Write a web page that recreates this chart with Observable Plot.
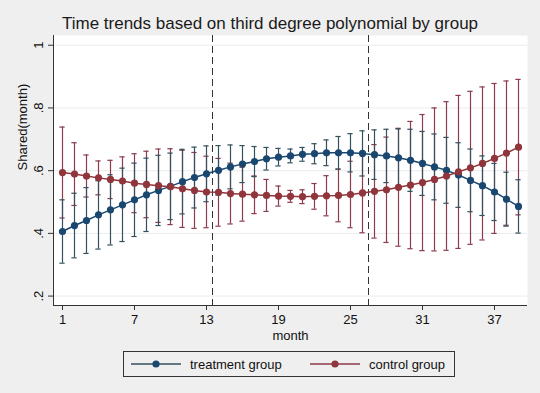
<!DOCTYPE html>
<html><head><meta charset="utf-8">
<script src="https://cdn.jsdelivr.net/npm/d3@7"></script>
<script src="https://cdn.jsdelivr.net/npm/@observablehq/plot@0.6"></script>
<style>
body{margin:0;background:#efefef;}
#wrap{position:relative;width:540px;height:393px;background:#efefef;font-family:"Liberation Sans",Arial,sans-serif;color:#111;overflow:hidden}
#title{position:absolute;left:0;width:540px;top:14px;text-align:center;font-size:17px;line-height:20px;color:#1a1a1a}
#chart{position:absolute;left:0;top:30px}
#legend{position:absolute;left:123px;top:351px;width:330px;height:24px;border:1px solid #333;background:#efefef}
#legend svg{display:block}
</style></head>
<body>
<div id="wrap">
  <div id="title">Time trends based on third degree polynomial by group</div>
  <div id="chart"></div>
  <div id="legend"></div>
</div>
<script>
const months = d3.range(1, 40);
const xTicks = [1, 7, 13, 19, 25, 31, 37];
const yTicks = [0.2, 0.4, 0.6, 0.8, 1];
const cutoffs = [13.5, 26.5];
const groups = ["treatment group", "control group"];

const treatment = [0.406,0.425,0.441,0.459,0.475,0.491,0.507,0.523,0.537,0.550,0.565,0.578,0.590,0.601,0.612,0.621,0.629,0.638,0.643,0.647,0.652,0.654,0.657,0.657,0.657,0.655,0.651,0.647,0.641,0.633,0.623,0.612,0.601,0.586,0.569,0.552,0.532,0.509,0.486];
const treatmentCI = [0.101,0.103,0.105,0.109,0.112,0.117,0.117,0.117,0.112,0.106,0.103,0.097,0.089,0.079,0.070,0.059,0.048,0.036,0.028,0.022,0.022,0.032,0.041,0.052,0.061,0.072,0.079,0.085,0.092,0.099,0.102,0.105,0.105,0.103,0.100,0.095,0.091,0.086,0.085];
const control = [0.594,0.589,0.583,0.577,0.572,0.567,0.560,0.556,0.552,0.549,0.542,0.537,0.532,0.531,0.527,0.525,0.523,0.521,0.519,0.518,0.517,0.518,0.520,0.521,0.524,0.529,0.534,0.539,0.547,0.554,0.562,0.572,0.583,0.596,0.609,0.623,0.639,0.656,0.675];
const controlCI = [0.145,0.100,0.067,0.054,0.061,0.077,0.094,0.106,0.117,0.121,0.123,0.121,0.114,0.108,0.097,0.086,0.060,0.051,0.032,0.019,0.022,0.041,0.064,0.084,0.106,0.127,0.149,0.168,0.188,0.203,0.217,0.228,0.237,0.244,0.244,0.244,0.239,0.230,0.216];

const lineColor = {"treatment group": "#1a476f", "control group": "#90353b"};
const ciColor = {"treatment group": "#34505f", "control group": "#8b3b4d"};

const rows = [];
months.forEach((m, i) => {
  rows.push({month: m, group: groups[0], y: treatment[i], lo: treatment[i] - treatmentCI[i], hi: treatment[i] + treatmentCI[i]});
});
months.forEach((m, i) => {
  rows.push({month: m, group: groups[1], y: control[i], lo: control[i] - controlCI[i], hi: control[i] + controlCI[i]});
});

const capW = 0.22;
const xDom = [0.25, 39.75];
const yDom = [0.17, 1.031];
const font = '"Liberation Sans", Arial, sans-serif';

function ciMarks(g) {
  const d = rows.filter(r => r.group === g);
  const c = ciColor[g];
  return [
    Plot.ruleX(d, {x: "month", y1: "lo", y2: "hi", stroke: c, strokeWidth: 1.2}),
    Plot.ruleY(d, {y: "hi", x1: r => r.month - capW, x2: r => r.month + capW, stroke: c, strokeWidth: 1.2}),
    Plot.ruleY(d, {y: "lo", x1: r => r.month - capW, x2: r => r.month + capW, stroke: c, strokeWidth: 1.2})
  ];
}
function serieMarks(g) {
  const d = rows.filter(r => r.group === g);
  return [
    Plot.line(d, {x: "month", y: "y", stroke: lineColor[g], strokeWidth: 1.5}),
    Plot.dot(d, {x: "month", y: "y", fill: lineColor[g], r: 3.6, stroke: "none"})
  ];
}

const chart = Plot.plot({
  width: 540,
  height: 320,
  marginLeft: 53,
  marginRight: 13,
  marginTop: 5,
  marginBottom: 45,
  style: {fontFamily: font, fontSize: "12px", color: "#111", background: "transparent"},
  x: {domain: xDom},
  y: {domain: yDom},
  marks: [
    Plot.frame({fill: "white", stroke: null}),
    Plot.ruleY(yTicks, {stroke: "#e8ecee", strokeWidth: 1}),
    Plot.ruleX(cutoffs, {stroke: "#333", strokeWidth: 1, strokeDasharray: "7,4"}),
    ...ciMarks(groups[1]),
    ...ciMarks(groups[0]),
    ...serieMarks(groups[0]),
    ...serieMarks(groups[1]),
    Plot.ruleX([xDom[0]], {stroke: "#333", strokeWidth: 1}),
    Plot.ruleY([yDom[0]], {stroke: "#333", strokeWidth: 1}),
    Plot.axisX({ticks: xTicks, tickSize: 5, tickPadding: 4, fontSize: 13, label: null, stroke: "#333", fill: "#111"}),
    Plot.axisY({ticks: yTicks, tickSize: 5, tickPadding: 6, tickRotate: -90, fontSize: 13, label: null, stroke: "#333", fill: "#111",
      tickFormat: d => d === 1 ? "1" : d3.format(".1f")(d).replace(/^0/, "")}),
    Plot.text(["Shared(month)"], {frameAnchor: "left", rotate: -90, dx: -31, fontSize: 13, fill: "#111"}),
    Plot.text(["month"], {frameAnchor: "bottom", dy: 34, fontSize: 13, fill: "#111"})
  ]
});
document.getElementById("chart").appendChild(chart);

// legend
const leg = d3.select("#legend").append("svg").attr("width", 330).attr("height", 24);
const entries = [{g: groups[0], x0: 7}, {g: groups[1], x0: 186}];
entries.forEach(e => {
  leg.append("line").attr("x1", e.x0).attr("x2", e.x0 + 50).attr("y1", 12).attr("y2", 12)
    .attr("stroke", ciColor[e.g]).attr("stroke-width", 1.5);
  leg.append("circle").attr("cx", e.x0 + 25).attr("cy", 12).attr("r", 3.6).attr("fill", lineColor[e.g]);
  leg.append("text").attr("x", e.x0 + 59).attr("y", 16.5).attr("font-family", font).attr("font-size", 13)
    .attr("fill", "#111").text(e.g);
});
</script>
</body></html>
